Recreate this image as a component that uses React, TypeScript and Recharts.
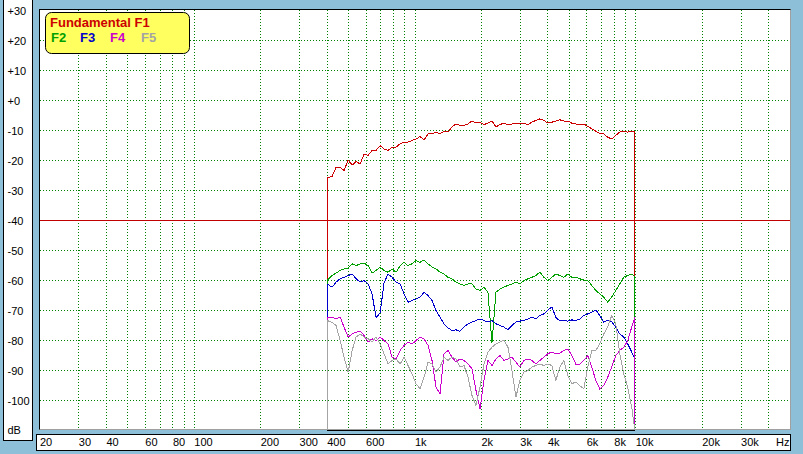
import React from 'react';
import { LineChart, Line, XAxis, YAxis, ReferenceLine, CartesianGrid } from 'recharts';

// Frequencies (Hz) at which the curves were read
const freqs = [
  400, 421, 439, 458, 477, 498, 519, 541, 564, 588,
  613, 639, 666, 695, 724, 755, 787, 821, 856, 892,
  930, 970, 1011, 1054, 1099, 1146, 1194, 1245, 1298, 1354,
  1411, 1471, 1534, 1599, 1667, 1738, 1812, 1889, 1970, 2053,
  2141, 2232, 2327, 2426, 2529, 2637, 2749, 2866, 2988, 3115,
  3247, 3385, 3529, 3679, 3836, 3999, 4169, 4346, 4531, 4724,
  4925, 5134, 5353, 5580, 5818, 6065, 6323, 6592, 6872, 7165,
  7469, 7787, 8118, 8464, 8824, 9199, 9590, 9900,
];

const f1Values = [
  -26, -25.5, -22.4, -22.5, -23.5, -20, -21.7, -20.5, -21.3, -18,
  -18.5, -16.8, -16.8, -15.2, -16.3, -16.8, -15.7, -15.7, -14.6, -14,
  -14, -13.5, -13, -12.2, -13.3, -11.3, -11.3, -10.7, -11.3, -10.4,
  -10.7, -9, -8, -8.5, -8.5, -8, -7, -7.7, -7.4, -8.2,
  -7.7, -7, -9, -8.2, -7.7, -8.2, -8, -7.7, -8, -7.7,
  -8.2, -7.4, -6.8, -6.3, -6.8, -7.7, -7.4, -7, -6.6, -7,
  -7, -7.7, -8, -8.2, -8, -8.8, -9.6, -10.4, -11.1, -11.3,
  -12.4, -13, -11.8, -10.7, -10.4, -10.7, -10.4, -10.7,
];

const f2Values = [
  -60.2, -58.5, -57.7, -56.8, -56.3, -56, -54.6, -55.2, -54.6, -54.4,
  -55.2, -57.7, -56.8, -55.7, -56.8, -57.4, -56.3, -57.4, -55.2, -54.1,
  -55.2, -54.6, -53.5, -54.1, -53.3, -54.6, -55.7, -56.3, -57.4, -58,
  -59.1, -59.6, -60.7, -61.3, -61.8, -61.3, -61.3, -63, -63.5, -62.4,
  -64.1, -81, -64.1, -63, -62.4, -61.8, -61.3, -60.7, -61.3, -60.2,
  -59.6, -59.1, -58.5, -57.4, -59.1, -60.2, -59.1, -58, -58.5, -59.1,
  -58, -59.1, -59.1, -59.6, -60, -60.2, -61.8, -63.5, -64.6, -65.7,
  -67.4, -65.7, -63.5, -61.3, -59.1, -58.5, -58, -58.8,
];

const f3Values = [
  -61.3, -62.4, -60.7, -59.6, -59.1, -58.5, -58, -59.6, -60.7, -60.2,
  -61.3, -64.6, -72.5, -71, -61, -58, -59.1, -60.7, -61.3, -64.6,
  -67.4, -66.8, -66.3, -65.7, -64.1, -65.2, -66.8, -70.2, -72.4, -74.6,
  -76, -76.8, -76.6, -77.1, -75.7, -74.6, -74, -73.5, -73, -73.5,
  -74, -73.5, -74.6, -75.2, -75.7, -76.6, -75.2, -74, -73.7, -73.5,
  -73, -72.4, -73, -71.8, -71.3, -70, -69, -72.4, -73.7, -73.5,
  -73.7, -73.3, -73.5, -73, -71.8, -71.3, -70.7, -70, -71.8, -74,
  -73.5, -74, -75.7, -78, -79, -81.3, -84, -86.3,
];

const f4Values = [
  -72.4, -72.4, -73, -72.4, -75.7, -79, -78, -77.4, -77, -78.5,
  -80.7, -79.6, -80.2, -79, -80.2, -81.3, -85.7, -86.3, -83.5, -81.8,
  -80.7, -81.3, -80.2, -79, -79.6, -81.8, -86.8, -95.7, -98, -84.6,
  -83.5, -85.7, -87.4, -86.3, -86.8, -88, -89.6, -96.8, -103, -93.5,
  -86.8, -88.5, -86.3, -85.2, -86.8, -86.3, -85.7, -87.4, -89, -86.8,
  -86.3, -86.8, -88, -86.8, -85.7, -84.6, -84, -84.6, -84.4, -83.5,
  -83, -85.2, -88, -88, -86.8, -85.2, -89, -93.5, -96.3, -95.2,
  -92.4, -89, -85.2, -83.5, -82.4, -80.2, -75.7, -72.4,
];

const f5Values = [
  -73.5, -74.1, -75.2, -80.2, -85.7, -90.7, -83.5, -79, -78, -79,
  -79.6, -80.7, -79, -81.3, -84.6, -88, -86.8, -86.3, -88, -85.7,
  -88.5, -91.3, -94.6, -96.3, -92.4, -87.4, -88, -90.7, -89, -85.7,
  -86.8, -85.7, -86.3, -89, -88.5, -92.4, -98.5, -101.8, -95.7, -88,
  -84, -82.4, -81.3, -80.7, -80, -82.4, -90.2, -99, -93.5, -90.7,
  -90.2, -89, -88.5, -88, -88.5, -88, -88.5, -93.5, -89, -86.8,
  -91.8, -94.6, -94, -95.2, -96.3, -89, -83.5, -83.5, -81.3, -78,
  -75.7, -71.8, -74.6, -84.6, -91.3, -95.7, -102.4, -110,
];

const floorDb = -110;
const topDb = 30;
const minFreq = 20;
const maxFreq = 50000;

const xTicks = [20, 30, 40, 60, 80, 100, 200, 300, 400, 600, 1000, 2000, 3000, 4000, 6000, 8000, 10000, 20000, 30000];
const yTicks = [30, 20, 10, 0, -10, -20, -30, -40, -50, -60, -70, -80, -90, -100];
const gridFreqs = [
  30, 40, 50, 60, 70, 80, 90, 100, 200, 300, 400, 500, 600, 700, 800, 900,
  1000, 2000, 3000, 4000, 5000, 6000, 7000, 8000, 9000, 10000, 20000, 30000, 40000,
];
const gridDb = [20, 10, 0, -10, -20, -30, -50, -60, -70, -80, -90, -100];
const refDb = -40;

const seriesDefs = [
  { name: 'Fundamental F1', color: '#cc0000', values: f1Values },
  { name: 'F2', color: '#00a000', values: f2Values },
  { name: 'F3', color: '#0000cc', values: f3Values },
  { name: 'F4', color: '#cc00cc', values: f4Values },
  { name: 'F5', color: '#a4a4a4', values: f5Values },
];

const buildData = (values: number[]) => [
  { f: freqs[0], v: floorDb },
  ...freqs.map((f, i) => ({ f, v: values[i] })),
  { f: freqs[freqs.length - 1], v: floorDb },
];

const FONT = '"Liberation Sans", Arial, sans-serif';

const fmtFreq = (f: number) => (f >= 1000 ? `${f / 1000}k` : `${f}`);
const fmtDb = (d: number) => (d >= 0 ? `+${d}` : `${d}`);

const XTick = (props: any) => {
  const { x, payload } = props;
  return (
    <text x={x} y={446} fontSize={11} fontFamily={FONT} fill="#000" textAnchor="start">
      {fmtFreq(payload.value)}
    </text>
  );
};

const YTick = (props: any) => {
  const { y, payload } = props;
  return (
    <text x={7.5} y={y + 5} fontSize={11} fontFamily={FONT} fill="#000" textAnchor="start">
      {fmtDb(payload.value)}
    </text>
  );
};

const legendItems = [
  { label: 'F2', color: '#00a000', x: 6 },
  { label: 'F3', color: '#0000cc', x: 35 },
  { label: 'F4', color: '#cc00cc', x: 65 },
  { label: 'F5', color: '#a4a4a4', x: 96 },
];

export default function App() {
  return (
    <div
      style={{
        position: 'absolute',
        left: 0,
        top: 0,
        width: 803,
        height: 454,
        background: '#8dbfd9',
        overflow: 'hidden',
        fontFamily: FONT,
      }}
    >
      {/* Y label box */}
      <div
        style={{
          position: 'absolute',
          left: 3,
          top: -1,
          width: 30,
          height: 442,
          background: '#fff',
          border: '1px solid #000',
          boxSizing: 'border-box',
        }}
      />
      {/* X label box */}
      <div
        style={{
          position: 'absolute',
          left: 36,
          top: 434,
          width: 755,
          height: 17,
          background: '#fff',
          border: '1px solid #000',
          boxSizing: 'border-box',
        }}
      />
      {/* Plot area */}
      <div
        style={{
          position: 'absolute',
          left: 39,
          top: 9,
          width: 752,
          height: 421,
          background: '#fff',
          borderTop: '1px solid #000',
          borderLeft: '1px solid #000',
          borderRight: '1px solid #a0a0a0',
          borderBottom: '1px solid #a0a0a0',
          boxSizing: 'border-box',
        }}
      />
      <div style={{ position: 'absolute', left: 0, top: 0 }}>
        <LineChart width={803} height={454} margin={{ top: 10, right: 13, bottom: 0, left: 0 }}>
          <CartesianGrid
            stroke="#008000"
            strokeDasharray="1 2"
            shapeRendering="crispEdges"
            verticalValues={gridFreqs}
            horizontalValues={gridDb}
            fill="none"
          />
          <XAxis
            dataKey="f"
            type="number"
            scale="log"
            domain={[minFreq, maxFreq]}
            allowDataOverflow
            ticks={xTicks}
            interval={0}
            height={24}
            axisLine={false}
            tickLine={false}
            tick={(p: any) => <XTick {...p} />}
          />
          <YAxis
            type="number"
            domain={[floorDb, topDb]}
            allowDataOverflow
            ticks={yTicks}
            interval={0}
            width={40}
            axisLine={false}
            tickLine={false}
            tick={(p: any) => <YTick {...p} />}
          />
          <ReferenceLine y={refDb} stroke="#c00000" strokeWidth={1} shapeRendering="crispEdges" />
          <ReferenceLine
            segment={[
              { x: freqs[0], y: floorDb },
              { x: freqs[freqs.length - 1], y: floorDb },
            ]}
            stroke="#000"
            ifOverflow="visible"
            shapeRendering="crispEdges"
          />
          {seriesDefs.map((s) => (
            <Line
              key={s.name}
              name={s.name}
              data={buildData(s.values)}
              dataKey="v"
              type="linear"
              stroke={s.color}
              strokeWidth={1}
              dot={false}
              activeDot={false}
              isAnimationActive={false}
              shapeRendering="crispEdges"
            />
          ))}
        </LineChart>
      </div>
      {/* dB / Hz unit labels */}
      <svg style={{ position: 'absolute', left: 0, top: 0 }} width={803} height={454}>
        <text x={7.5} y={434} fontSize={11} fontFamily={FONT} fill="#000">dB</text>
        <text x={776} y={446} fontSize={11} fontFamily={FONT} fill="#000">Hz</text>
      </svg>
      {/* Legend */}
      <svg style={{ position: 'absolute', left: 45, top: 12 }} width={146} height={43}>
        <rect x={0.5} y={0.5} width={144} height={41} rx={6} ry={6} fill="#ffff60" stroke="#000" />
        <text x={5} y={15} fontSize={13} fontWeight="bold" fontFamily={FONT} fill="#cc0000">
          Fundamental F1
        </text>
        {legendItems.map((it) => (
          <text key={it.label} x={it.x} y={29.5} fontSize={13} fontWeight="bold" fontFamily={FONT} fill={it.color}>
            {it.label}
          </text>
        ))}
      </svg>
    </div>
  );
}
